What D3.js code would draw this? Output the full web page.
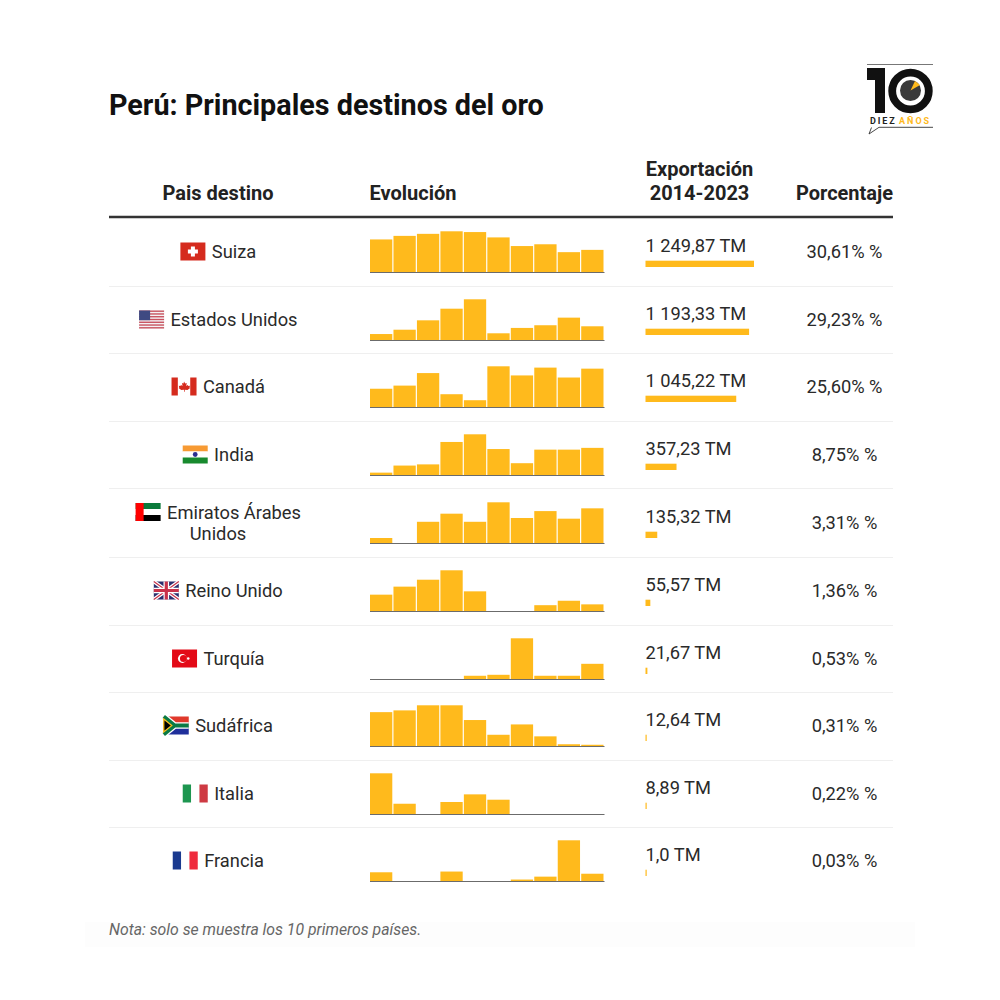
<!DOCTYPE html>
<html>
<head>
<meta charset="utf-8">
<script src="https://cdn.jsdelivr.net/npm/d3@7"></script>
<style>
  html, body { margin: 0; background: #fff; }
  text { font-family: Roboto, sans-serif; fill: #222; }
</style>
</head>
<body>
<svg id="chart" width="1000" height="1000"></svg>
<script>
const titulo = 'Perú: Principales destinos del oro';
const nota = 'Nota: solo se muestra los 10 primeros países.';

const paises = ['Suiza', 'Estados Unidos', 'Canadá', 'India', 'Emiratos Árabes Unidos',
  'Reino Unido', 'Turquía', 'Sudáfrica', 'Italia', 'Francia'];
const banderas = ['ch', 'us', 'ca', 'in', 'ae', 'gb', 'tr', 'za', 'it', 'fr'];
const exportacion = [1249.87, 1193.33, 1045.22, 357.23, 135.32, 55.57, 21.67, 12.64, 8.89, 1.0];
const exportacionTxt = ['1 249,87 TM', '1 193,33 TM', '1 045,22 TM', '357,23 TM', '135,32 TM',
  '55,57 TM', '21,67 TM', '12,64 TM', '8,89 TM', '1,0 TM'];
const porcentajeTxt = ['30,61% %', '29,23% %', '25,60% %', '8,75% %', '3,31% %',
  '1,36% %', '0,53% %', '0,31% %', '0,22% %', '0,03% %'];
const anios = [2014, 2015, 2016, 2017, 2018, 2019, 2020, 2021, 2022, 2023];

// toneladas por año, estimadas de la altura de las barras
const suiza = [128, 142, 150, 160, 157, 136, 102, 109, 78, 87];
const eeuu = [40, 69, 132, 210, 273, 45, 81, 99, 150, 92];
const canada = [70, 82, 130, 49, 26, 156, 121, 151, 113, 147];
const india = [4, 16, 18, 56, 69, 44, 20, 43, 43, 46];
const emiratos = [2.9, 0, 12.3, 17, 12.3, 23.6, 14.5, 18.5, 14.1, 20.1];
const reinoUnido = [5.9, 8.8, 11.3, 14.7, 7.1, 0, 0, 2.1, 3.7, 2.4];
const turquia = [0, 0, 0, 0, 1, 1.3, 12.6, 1, 1, 4.7];
const sudafrica = [1.93, 2.03, 2.32, 2.32, 1.48, 0.64, 1.23, 0.55, 0.1, 0.07];
const italia = [3.73, 0.94, 0, 1.1, 1.8, 1.31, 0, 0, 0, 0];
const francia = [0.12, 0, 0, 0.13, 0, 0, 0.02, 0.06, 0.56, 0.1];
const evolucion = [suiza, eeuu, canada, india, emiratos, reinoUnido, turquia, sudafrica, italia, francia];

const oro = '#ffba1c';
const svg = d3.select('#chart');

// filas
const bordes = [217, 286, 353, 421, 488, 557, 625, 692, 760, 827, 895];
const bases = [272, 340, 407, 475, 543, 611, 679, 746, 814, 881];
const xIzq = 109, xDer = 893;

svg.append('rect').attr('x', 85).attr('y', 922).attr('width', 830).attr('height', 25).attr('fill', '#fdfdfd');

svg.append('text').attr('x', xIzq).attr('y', 115)
  .style('font-size', '28.75px').style('font-weight', 700).style('fill', '#111').text(titulo);

// encabezados
const head = svg.append('g').style('font-size', '20px').style('font-weight', 700);
head.append('text').attr('x', 218).attr('y', 200).attr('text-anchor', 'middle').text('Pais destino');
head.append('text').attr('x', 369.5).attr('y', 200).text('Evolución');
head.append('text').attr('x', 699.5).attr('y', 176).attr('text-anchor', 'middle').text('Exportación');
head.append('text').attr('x', 699.5).attr('y', 200).attr('text-anchor', 'middle').text('2014-2023');
head.append('text').attr('x', 844.5).attr('y', 200).attr('text-anchor', 'middle').text('Porcentaje');

svg.append('line').attr('x1', xIzq).attr('x2', xDer).attr('y1', 217).attr('y2', 217)
  .attr('stroke', '#333').attr('stroke-width', 2.5);

svg.append('g').selectAll('line').data(bordes.slice(1, -1)).join('line')
  .attr('x1', xIzq).attr('x2', xDer).attr('y1', d => d + 0.5).attr('y2', d => d + 0.5)
  .attr('stroke', '#efefef').attr('stroke-width', 1);

// escalas
const x = d3.scaleBand().domain(anios).range([370, 603.5]).paddingInner(0.05);
const xExport = d3.scaleLinear().domain([0, d3.max(exportacion)]).range([0, 108.5]);

// banderas de 25x18 con origen en la esquina superior izquierda
const dibujaBandera = {
  ch(g) {
    g.append('rect').attr('width', 25).attr('height', 18).attr('fill', '#d52b1e');
    g.append('rect').attr('x', 10.5).attr('y', 4).attr('width', 4).attr('height', 10).attr('fill', '#fff');
    g.append('rect').attr('x', 7.5).attr('y', 7).attr('width', 10).attr('height', 4).attr('fill', '#fff');
  },
  us(g) {
    g.append('rect').attr('width', 25).attr('height', 18).attr('fill', '#f4f2f4');
    g.selectAll('.s').data(d3.range(0, 7)).join('rect').attr('class', 's')
      .attr('y', d => d * 2.77).attr('width', 25).attr('height', 1.38).attr('fill', '#c8525f');
    g.append('rect').attr('width', 11).attr('height', 9.7).attr('fill', '#3f4a82');
  },
  ca(g) {
    g.append('rect').attr('width', 25).attr('height', 18).attr('fill', '#fff');
    g.append('rect').attr('width', 6.3).attr('height', 18).attr('fill', '#d52b1e');
    g.append('rect').attr('x', 18.7).attr('width', 6.3).attr('height', 18).attr('fill', '#d52b1e');
    g.append('path').attr('d', 'M12.5 4l1.2 2 1.5-.6-.5 3 1.6-.9.5 1 1.7-.2-.6 1.8.7.5-2.6 2-2.8-.3v1.9h-.7v-1.9l-2.8.3-2.6-2 .7-.5-.6-1.8 1.7.2.5-1 1.6.9-.5-3 1.5.6z')
      .attr('fill', '#d52b1e');
  },
  in(g) {
    g.append('rect').attr('width', 25).attr('height', 6).attr('fill', '#f79a33');
    g.append('rect').attr('y', 6).attr('width', 25).attr('height', 6).attr('fill', '#fff');
    g.append('rect').attr('y', 12).attr('width', 25).attr('height', 6).attr('fill', '#188a2e');
    g.append('circle').attr('cx', 12.5).attr('cy', 9).attr('r', 2.4).attr('fill', '#2b2f8f');
  },
  ae(g) {
    g.append('rect').attr('width', 25).attr('height', 6).attr('fill', '#0b7a3b');
    g.append('rect').attr('y', 6).attr('width', 25).attr('height', 6).attr('fill', '#fff');
    g.append('rect').attr('y', 12).attr('width', 25).attr('height', 6).attr('fill', '#000');
    g.append('rect').attr('width', 8).attr('height', 18).attr('fill', '#f00');
  },
  gb(g) {
    g.append('rect').attr('width', 25).attr('height', 18).attr('fill', '#2a2f6e');
    g.append('path').attr('d', 'M0 0L25 18M25 0L0 18').attr('stroke', '#fff').attr('stroke-width', 3.6);
    g.append('path').attr('d', 'M0 0L25 18M25 0L0 18').attr('stroke', '#c8324a').attr('stroke-width', 1.2);
    g.append('path').attr('d', 'M12.5 0V18M0 9H25').attr('stroke', '#fff').attr('stroke-width', 5.6);
    g.append('path').attr('d', 'M12.5 0V18M0 9H25').attr('stroke', '#c8324a').attr('stroke-width', 3.2);
  },
  tr(g) {
    g.append('rect').attr('width', 25).attr('height', 18).attr('fill', '#e30a17');
    g.append('circle').attr('cx', 10.3).attr('cy', 9).attr('r', 4.4).attr('fill', '#fff');
    g.append('circle').attr('cx', 11.4).attr('cy', 9).attr('r', 3.5).attr('fill', '#e30a17');
    g.append('circle').attr('cx', 16.2).attr('cy', 9).attr('r', 1.3).attr('fill', '#fff');
  },
  za(g) {
    g.append('rect').attr('width', 25).attr('height', 9).attr('fill', '#e0392b');
    g.append('rect').attr('y', 9).attr('width', 25).attr('height', 9).attr('fill', '#1f2f9b');
    g.append('path').attr('d', 'M0 0L11 9L0 18M11 9H25').attr('fill', 'none').attr('stroke', '#fff').attr('stroke-width', 6.4);
    g.append('path').attr('d', 'M0 0L11 9L0 18M11 9H25').attr('fill', 'none').attr('stroke', '#0a7a45').attr('stroke-width', 3.8);
    g.append('path').attr('d', 'M0 2.6L8 9L0 15.4Z').attr('fill', '#000').attr('stroke', '#f8bd1c').attr('stroke-width', 1.3);
  },
  it(g) {
    g.append('rect').attr('width', 8.3).attr('height', 18).attr('fill', '#1d9650');
    g.append('rect').attr('x', 16.7).attr('width', 8.3).attr('height', 18).attr('fill', '#ce3a43');
  },
  fr(g) {
    g.append('rect').attr('width', 8.3).attr('height', 18).attr('fill', '#1a3a8f');
    g.append('rect').attr('x', 16.7).attr('width', 8.3).attr('height', 18).attr('fill', '#ef2b3d');
  }
};

paises.forEach((pais, i) => {
  const y0 = bordes[i], y1 = bordes[i + 1];
  const cy = Math.floor((y0 + y1) / 2 - 0.5);
  const fila = svg.append('g');

  // pais con bandera, centrado en la columna
  const celda = fila.append('g').style('font-size', '18.3px');
  const lineas = pais === 'Emiratos Árabes Unidos' ? ['Emiratos Árabes', 'Unidos'] : [pais];
  const t1 = celda.append('text').attr('y', lineas.length > 1 ? cy - 3.5 : cy + 7).style('fill', '#2a2a2a').text(lineas[0]);
  const ancho = t1.node().getComputedTextLength();
  const inicio = 218 - (25 + 7 + ancho) / 2;
  t1.attr('x', inicio + 32);
  if (lineas.length > 1) {
    celda.append('text').attr('x', 218).attr('y', cy + 18).attr('text-anchor', 'middle')
      .style('fill', '#2a2a2a').text(lineas[1]);
  }
  const bandera = celda.append('g')
    .attr('transform', `translate(${inicio + 0.6},${lineas.length > 1 ? cy - 19 : cy - 8.5})`);
  dibujaBandera[banderas[i]](bandera);

  // evolucion, cada fila con su propio maximo
  const serie = evolucion[i];
  const base = bases[i];
  const yFila = d3.scaleLinear().domain([0, d3.max(serie)]).range([base, base - 40.7]);
  fila.append('g').selectAll('rect').data(serie).join('rect')
    .attr('x', (d, j) => x(anios[j]))
    .attr('y', d => yFila(d))
    .attr('width', x.bandwidth())
    .attr('height', d => base - yFila(d))
    .attr('fill', oro);
  const eje = fila.append('g').attr('transform', `translate(0,${base})`)
    .call(d3.axisBottom(d3.scaleLinear().domain([0, 1]).range([369.5, 604])).tickValues([]).tickSize(0));
  eje.select('.domain').attr('stroke', '#6b6b6b').attr('stroke-width', 1);

  // exportacion
  fila.append('text').attr('x', 645.5).attr('y', cy + 1).style('font-size', '18.3px')
    .style('fill', '#2a2a2a').text(exportacionTxt[i]);
  fila.append('rect').attr('x', 645.5).attr('y', cy + 9.7)
    .attr('width', Math.max(xExport(exportacion[i]), 1.2)).attr('height', 6.3).attr('fill', oro);

  // porcentaje
  fila.append('text').attr('x', 844.5).attr('y', cy + 7).attr('text-anchor', 'middle')
    .style('font-size', '18.3px').style('fill', '#2a2a2a').text(porcentajeTxt[i]);
});

svg.append('text').attr('x', xIzq).attr('y', 935)
  .style('font-size', '15.8px').style('font-style', 'italic').style('fill', '#666').text(nota);

// logo
const logo = svg.append('g');
logo.append('line').attr('x1', 867).attr('x2', 933).attr('y1', 64.5).attr('y2', 64.5).attr('stroke', '#777');
logo.append('path').attr('d', 'M867 68H885V113H875V80H867Z').attr('fill', '#111');
logo.append('circle').attr('cx', 910.5).attr('cy', 91).attr('r', 18.3).attr('fill', 'none').attr('stroke', '#111').attr('stroke-width', 7.8);
logo.append('circle').attr('cx', 910.5).attr('cy', 90.5).attr('r', 10.5).attr('fill', '#3a3a3a');
logo.append('path').attr('d', 'M910.5 90.5L915 81L920 85Z').attr('fill', oro);
logo.append('text').attr('x', 870).attr('y', 123.5).style('font-size', '9px').style('font-weight', 700)
  .style('letter-spacing', '1.9px').style('fill', '#222').text('DIEZ');
logo.append('text').attr('x', 899).attr('y', 123.5).style('font-size', '9px').style('font-weight', 700)
  .style('letter-spacing', '2px').style('fill', oro).text('AÑOS');
logo.append('path').attr('d', 'M933 127.3H879L869 134L871.5 127.5').attr('fill', 'none').attr('stroke', '#333').attr('stroke-width', 0.9);
</script>
</body>
</html>
